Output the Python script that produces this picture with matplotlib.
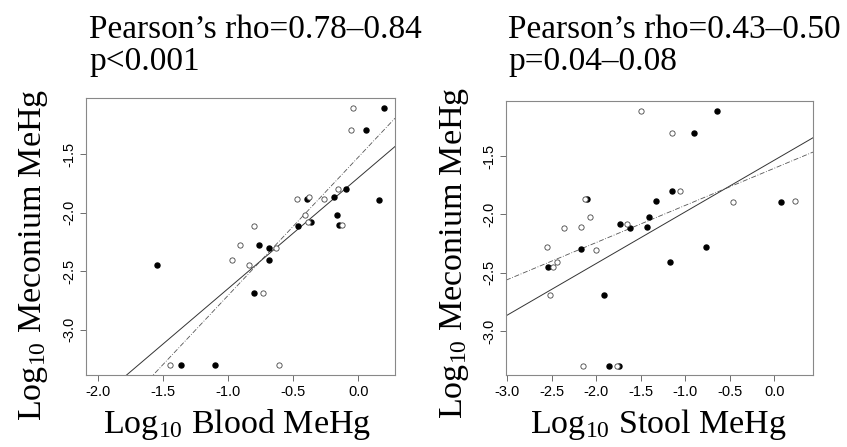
import numpy as np
import matplotlib
matplotlib.use('Agg')
import matplotlib.pyplot as plt

# blood panel: filled = one group, open = other group
blood_x_fill = [0.197, 0.059, -0.397, -0.187, -0.097, 0.159, -0.167, -0.146, -0.462, -0.364,
                -0.767, -0.687, -0.687, -1.546, -0.803, -1.362, -1.100]
blood_y_fill = [-1.107, -1.292, -1.882, -1.862, -1.796, -1.887, -2.016, -2.104, -2.115, -2.081,
                -2.275, -2.298, -2.406, -2.449, -2.688, -3.298, -3.298]
blood_x_open = [-0.044, -0.054, -0.472, -0.379, -0.262, -0.156, -0.410, -0.390, -0.123, -0.803,
                -0.913, -0.631, -0.974, -0.841, -0.731, -1.446, -0.613]
blood_y_open = [-1.107, -1.292, -1.882, -1.862, -1.885, -1.796, -2.016, -2.081, -2.104, -2.115,
                -2.275, -2.298, -2.406, -2.449, -2.688, -3.298, -3.298]

stool_x_fill = [-0.640, -0.903, -1.154, -1.326, -2.105, -1.412, -1.734, -1.618, -1.427, -2.176,
                -2.539, -0.768, -1.176, -1.914, 0.079, -1.854, -1.742]
stool_y_fill = [-1.114, -1.297, -1.800, -1.883, -1.866, -2.020, -2.083, -2.117, -2.109, -2.300,
                -2.451, -2.277, -2.409, -2.689, -1.889, -3.297, -3.297]
stool_x_open = [-1.494, -1.154, -1.056, -2.124, -2.071, -2.367, -2.169, -1.652, -2.551, -2.000,
                -2.442, -2.491, -2.524, -0.461, 0.236, -2.154, -1.764]
stool_y_open = [-1.114, -1.297, -1.800, -1.866, -2.020, -2.117, -2.109, -2.083, -2.280, -2.303,
                -2.409, -2.451, -2.691, -1.889, -1.886, -3.297, -3.297]

# fitted lines (slope, intercept): solid and dash-dot
blood_fit_solid = (0.946, -1.701)
blood_fit_dash = (1.180, -1.525)
stool_fit_solid = (0.443, -1.534)
stool_fit_dash = (0.3186, -1.603)

titles_rho = ["Pearson\u2019s rho=0.78\u20130.84", "Pearson\u2019s rho=0.43\u20130.50"]
titles_p = ["p<0.001", "p=0.04\u20130.08"]
xlabels = ["Log$_{10}$ Blood MeHg", "Log$_{10}$ Stool MeHg"]
ylabel = "Log$_{10}$ Meconium MeHg"

plt.rcParams['mathtext.fontset'] = 'custom'
plt.rcParams['mathtext.rm'] = 'Liberation Serif'
plt.rcParams['mathtext.it'] = 'Liberation Serif'
serif = ['Liberation Serif', 'DejaVu Serif']
sans = ['Liberation Sans Narrow', 'Liberation Sans', 'DejaVu Sans']

fig = plt.figure(figsize=(8.47, 4.47), dpi=100)
ax1 = fig.add_axes([0.1015, 0.1611, 0.3648, 0.6197])
ax2 = fig.add_axes([0.5974, 0.1611, 0.3625, 0.613])

panels = [
    (ax1, blood_x_fill, blood_y_fill, blood_x_open, blood_y_open, blood_fit_solid, blood_fit_dash,
     (-2.095, 0.282), (-3.387, -1.019), [-2.0, -1.5, -1.0, -0.5, 0.0]),
    (ax2, stool_x_fill, stool_y_fill, stool_x_open, stool_y_open, stool_fit_solid, stool_fit_dash,
     (-3.015, 0.435), (-3.377, -1.026), [-3.0, -2.5, -2.0, -1.5, -1.0, -0.5, 0.0]),
]

for ax, xf, yf, xo, yo, fs, fd, xl, yl, xt in panels:
    ax.plot(xf, yf, 'o', color='black', markersize=3.6, zorder=3)
    ax.plot(xo, yo, 'o', markerfacecolor='white', markeredgecolor='#444444',
            markeredgewidth=0.6, markersize=3.8, zorder=3)
    xx = np.array(xl)
    ax.plot(xx, fs[0] * xx + fs[1], '-', color='#333333', lw=0.7)
    ax.plot(xx, fd[0] * xx + fd[1], linestyle=(0, (6, 2, 1, 2)), color='#555555', lw=0.6)
    ax.set_xlim(xl)
    ax.set_ylim(yl)
    ax.set_xticks(xt)
    ax.set_xticklabels(['%.1f' % v for v in xt])
    ax.set_yticks([-1.5, -2.0, -2.5, -3.0])
    ax.set_yticklabels(['-1.5', '-2.0', '-2.5', '-3.0'], rotation=90, va='center')
    for s in ax.spines.values():
        s.set_color('#888888')
        s.set_linewidth(0.8)
    ax.tick_params(direction='out', length=4, width=0.6, color='#555555', labelsize=10.5, pad=3)
    for lab in ax.get_xticklabels() + ax.get_yticklabels():
        lab.set_family(sans)

# axis labels, placed where the reference has them
fig.text(237.5 / 847, 1 - 433 / 447, xlabels[0], ha='center', va='baseline', fontsize=24.5, family=serif)
fig.text(658 / 847, 1 - 433 / 447, xlabels[1], ha='center', va='baseline', fontsize=24.5, family=serif)
fig.text(33 / 847, 1 - 255 / 447, ylabel, ha='center', va='center', rotation=90, fontsize=24.5, family=serif)
fig.text(454 / 847, 1 - 253 / 447, ylabel, ha='center', va='center', rotation=90, fontsize=24.5, family=serif)

# titles
for x0, t1, t2 in zip([89 / 847, 508 / 847], titles_rho, titles_p):
    fig.text(x0, 1 - 38 / 447, t1, ha='left', va='baseline', fontsize=24, family=serif)
    fig.text(x0, 1 - 70 / 447, t2, ha='left', va='baseline', fontsize=24, family=serif)

fig.savefig('out.png', dpi=100)
